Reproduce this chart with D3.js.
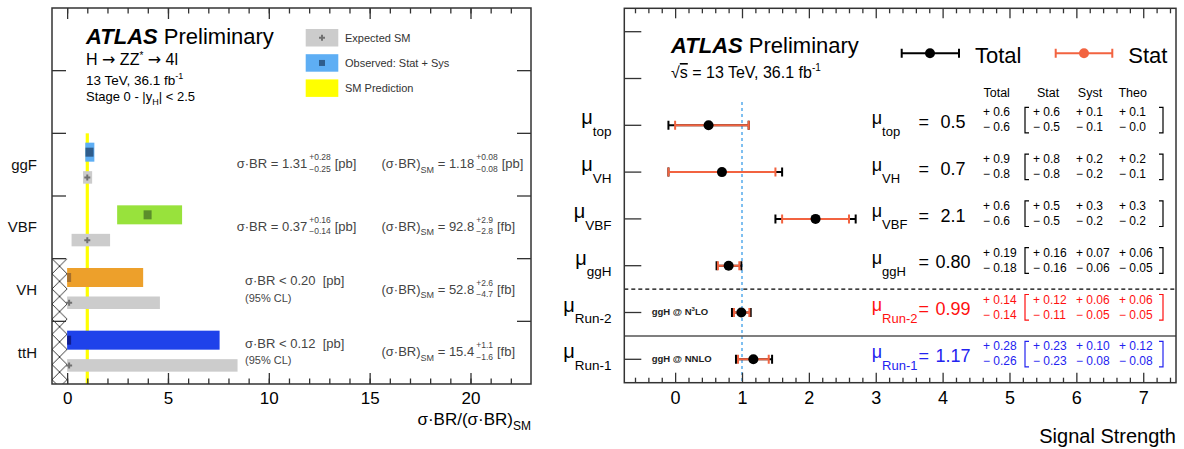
<!DOCTYPE html>
<html>
<head>
<meta charset="utf-8">
<script src="https://cdn.jsdelivr.net/npm/d3@7"></script>
<style>
  body { margin: 0; background: #fff; }
  svg { display: block; font-family: "Liberation Sans", Arial, Helvetica, sans-serif; }
  svg text { white-space: pre; }
</style>
</head>
<body>
<svg id="chart" width="1184" height="449"></svg>
<script>
// ---- left panel: H -> ZZ* -> 4l, sigma*BR relative to SM
const procs = ["ggF", "VBF", "VH", "ttH"];
const obsMid = [1.11, 3.99, 0.0, 0.0];
const obsLo = [0.90, 2.48, 0.0, 0.0];
const obsHi = [1.35, 5.70, 3.77, 7.56];
const expMid = [1.0, 1.0, 0.0, 0.0];
const expLo = [0.79, 0.22, 0.0, 0.0];
const expHi = [1.24, 2.13, 4.60, 8.45];
const isLimit = [false, false, true, true];
const xsObs = ["1.31", "0.37", "0.20", "0.12"];
const xsObsUp = ["+0.28", "+0.16", "", ""];
const xsObsDn = ["−0.25", "−0.14", "", ""];
const xsSM = ["1.18", "92.8", "52.8", "15.4"];
const xsSMUp = ["+0.08", "+2.9", "+2.6", "+1.1"];
const xsSMDn = ["−0.08", "−2.8", "−4.7", "−1.6"];
const xsSMUnit = ["pb", "fb", "fb", "fb"];
const procColor = ["#5eaef4", "#98e23c", "#eda02b", "#1f42ea"];
const procDark = ["#2f5d8c", "#5b8e2b", "#a66f2c", "#101c8c"];
const legendL = ["Expected SM", "Observed: Stat + Sys", "SM Prediction"];
const xTicksL = [0, 5, 10, 15, 20];

// ---- right panel: signal strengths
const muNames = ["top", "VH", "VBF", "ggH", "Run-2", "Run-1"];
const muVal = [0.5, 0.7, 2.1, 0.80, 0.99, 1.17];
const totUp = [0.6, 0.9, 0.6, 0.19, 0.14, 0.28];
const totDn = [0.6, 0.8, 0.6, 0.18, 0.14, 0.26];
const statUp = [0.6, 0.8, 0.5, 0.16, 0.12, 0.23];
const statDn = [0.5, 0.8, 0.5, 0.16, 0.11, 0.23];
const systUp = [0.1, 0.2, 0.3, 0.07, 0.06, 0.10];
const systDn = [0.1, 0.2, 0.2, 0.06, 0.05, 0.08];
const theoUp = [0.1, 0.2, 0.3, 0.06, 0.06, 0.12];
const theoDn = [0.0, 0.1, 0.2, 0.05, 0.05, 0.08];
const muDigits = [1, 1, 1, 2, 2, 2];
const muColor = ["#000", "#000", "#000", "#000", "#ff1010", "#2323f0"];
const muNote = ["", "", "", "", "N3LO", "NNLO"];
const colHeads = ["Total", "Stat", "Syst", "Theo"];
const xTicksR = [0, 1, 2, 3, 4, 5, 6, 7];

const svg = d3.select("#chart");
svg.append("rect").attr("width", 1184).attr("height", 449).attr("fill", "#fff");

const ORANGE = "#f26340";

// text helpers (tspans shifted with dy so one text chunk keeps its anchor)
function rich(g, x, y, parts, fill, anchor) {
  const t = g.append("text").attr("x", x).attr("y", y)
    .attr("fill", fill || "#000").attr("text-anchor", anchor || "start");
  let cur = 0;
  parts.forEach(([s, size, dy, kind]) => {
    const off = dy || 0;
    const sp = t.append("tspan").attr("dy", off - cur).attr("font-size", size).text(s);
    cur = off;
    if (kind === "atlas") sp.attr("font-weight", "bold").attr("font-style", "italic");
    if (kind === "over") sp.style("text-decoration", "overline");
    if (kind === "bold") sp.attr("font-weight", "bold");
    if (kind === "arrow") sp.attr("font-family", "DejaVu Sans");
  });
  return t;
}
const wOf = t => t.node().getComputedTextLength();
function stack(g, x, y, up, dn, size, upDy, dnDy, fill) {
  const a = g.append("text").attr("x", x).attr("y", y + upDy).attr("font-size", size).attr("fill", fill).text(up);
  const b = g.append("text").attr("x", x).attr("y", y + dnDy).attr("font-size", size).attr("fill", fill).text(dn);
  return Math.max(wOf(a), wOf(b));
}

// ================= LEFT PANEL =================
const xL = d3.scaleLinear().domain([-0.75, 23]).range([52, 531]);
const yL = d3.scaleBand().domain(["r1", "r2"].concat(procs)).range([8, 384]);
const bwL = yL.bandwidth();
const gL = svg.append("g");

// hatched region (excluded negative values) under VH and ttH
const hatchTop = yL("VH");
const hw = xL(0) - xL.range()[0];
const pat = svg.append("defs").append("pattern").attr("id", "xhatch")
  .attr("patternUnits", "userSpaceOnUse").attr("x", xL.range()[0]).attr("y", hatchTop)
  .attr("width", hw).attr("height", hw);
pat.append("path").attr("d", `M0,0L${hw},${hw}M${hw},0L0,${hw}`)
  .attr("stroke", "#222").attr("stroke-width", 0.9).attr("fill", "none");
gL.append("rect").attr("x", xL.range()[0]).attr("y", hatchTop)
  .attr("width", hw).attr("height", yL.range()[1] - hatchTop).attr("fill", "url(#xhatch)");

// SM prediction line
gL.append("line").attr("x1", xL(1)).attr("x2", xL(1))
  .attr("y1", yL("ggF")).attr("y2", yL.range()[1])
  .attr("stroke", "#ffff00").attr("stroke-width", 3.2);

function plus(g, cx, cy, color) {
  g.append("path").attr("d", `M${cx - 3},${cy}H${cx + 3}M${cx},${cy - 3}V${cy + 3}`)
    .attr("stroke", color).attr("stroke-width", 2);
}

procs.forEach((p, i) => {
  const y0 = yL(p);
  const yc = y0 + bwL / 2;
  // observed
  gL.append("rect").attr("x", xL(obsLo[i])).attr("y", yc - 22)
    .attr("width", xL(obsHi[i]) - xL(obsLo[i])).attr("height", 19)
    .attr("fill", procColor[i]);
  const sx0 = Math.max(xL(obsMid[i]) - 4, xL(0));
  gL.append("rect").attr("x", sx0).attr("y", yc - 17)
    .attr("width", xL(obsMid[i]) + 4 - sx0).attr("height", 9)
    .attr("fill", procDark[i]);
  // expected
  gL.append("rect").attr("x", xL(expLo[i])).attr("y", yc + 6.5)
    .attr("width", xL(expHi[i]) - xL(expLo[i])).attr("height", 12.5)
    .attr("fill", "#cccccc");
  plus(gL, Math.max(xL(expMid[i]), xL(0) + 2), yc + 12.8, "#707070");

  // category label
  rich(gL, 37, yc + 5, [[p, 15]], "#111", "end");

  // cross-section text
  const tc = "#444";
  if (!isLimit[i]) {
    const t = rich(gL, 236.7, yc + 3.5, [["σ·BR = " + xsObs[i], 13]], tc);
    const x1 = 236.7 + wOf(t) + 2;
    const sw = stack(gL, x1, yc + 3.5, xsObsUp[i], xsObsDn[i], 8.5, -8, 3.5, tc);
    rich(gL, x1 + sw + 4, yc + 3.5, [["[pb]", 13]], tc);
  } else {
    rich(gL, 245, yc - 5, [["σ·BR < " + xsObs[i] + "  [pb]", 13]], tc);
    rich(gL, 245, yc + 11.5, [["(95% CL)", 11]], tc);
  }
  const ys = yc + 3.5;
  const t2 = rich(gL, 381.5, ys, [["(σ·BR)", 13], ["SM", 9, 4.5], [" = " + xsSM[i], 13]], tc);
  const x2 = 381.5 + wOf(t2) + 2;
  const sw2 = stack(gL, x2, ys, xsSMUp[i], xsSMDn[i], 8.5, -8, 3.5, tc);
  rich(gL, x2 + sw2 + 4, ys, [["[" + xsSMUnit[i] + "]", 13]], tc);
});

// legend
legendL.forEach((s, i) => {
  const by = 29 + i * 25.2;
  const fill = ["#cccccc", procColor[0], "#ffff00"][i];
  gL.append("rect").attr("x", 305.7).attr("y", by).attr("width", 32.6).attr("height", 17.5).attr("fill", fill);
  if (i === 0) plus(gL, 322, by + 8.75, "#707070");
  if (i === 1) gL.append("rect").attr("x", 319).attr("y", by + 5.75).attr("width", 6).attr("height", 6).attr("fill", procDark[0]);
  rich(gL, 345, by + 12.5, [[s, 11]], "#333");
});

// header texts
rich(gL, 86, 43.5, [["ATLAS", 22, 0, "atlas"], [" Preliminary", 22]]);
rich(gL, 86, 65, [["H ", 16], ["→", 16, 0, "arrow"], [" ZZ", 16], ["*", 10, -6], [" ", 16], ["→", 16, 0, "arrow"], [" 4l", 16]]);
rich(gL, 86, 84.5, [["13 TeV, 36.1 fb", 13.5], ["-1", 9, -6]]);
rich(gL, 86, 101, [["Stage 0 - |y", 13], ["H", 9, 4], ["| < 2.5", 13]]);

// frame and axes
gL.append("rect").attr("x", 52).attr("y", 8).attr("width", 479).attr("height", 376)
  .attr("fill", "none").attr("stroke", "#333").attr("stroke-width", 1.5);
const minorL = d3.range(0, 23);
gL.append("g").attr("transform", "translate(0,384)")
  .call(d3.axisBottom(xL).tickValues(minorL).tickSizeInner(-5.5).tickSizeOuter(0).tickFormat(""))
  .call(a => a.select(".domain").remove());
gL.append("g").attr("transform", "translate(0,384)")
  .call(d3.axisBottom(xL).tickValues(xTicksL).tickSizeInner(-11).tickSizeOuter(0).tickPadding(8))
  .call(a => a.select(".domain").remove())
  .call(a => a.selectAll("text").attr("font-size", 17).attr("font-family", "Liberation Sans, Arial, sans-serif"));
gL.append("g").attr("transform", "translate(0,8)")
  .call(d3.axisTop(xL).tickValues(minorL).tickSizeInner(-5.5).tickSizeOuter(0).tickFormat(""))
  .call(a => a.select(".domain").remove());
gL.append("g").attr("transform", "translate(0,8)")
  .call(d3.axisTop(xL).tickValues(xTicksL).tickSizeInner(-11).tickSizeOuter(0).tickFormat(""))
  .call(a => a.select(".domain").remove());
gL.selectAll(".tick line").attr("stroke", "#333").attr("stroke-width", 1.3);
yL.domain().slice(1).forEach(k => {
  const y = yL(k);
  gL.append("line").attr("x1", 52).attr("x2", 66).attr("y1", y).attr("y2", y).attr("stroke", "#333").attr("stroke-width", 1.3);
  gL.append("line").attr("x1", 517).attr("x2", 531).attr("y1", y).attr("y2", y).attr("stroke", "#333").attr("stroke-width", 1.3);
});
rich(gL, 531, 425, [["σ·BR/(σ·BR)", 17], ["SM", 12, 5]], "#000", "end");

// ================= RIGHT PANEL =================
const xR = d3.scaleLinear().domain([-0.76, 7.49]).range([624.3, 1176]);
const yR = d3.scaleBand().domain(["h0", "leg"].concat(muNames)).range([8.3, 382.7]);
const bwR = yR.bandwidth();
const gR = svg.append("g");
const [fx0, fx1] = xR.range();
const [fy0, fy1] = yR.range();

// SM reference line at mu = 1
gR.append("line").attr("x1", xR(1)).attr("x2", xR(1)).attr("y1", yR("top")).attr("y2", fy1)
  .attr("stroke", "#7fbff0").attr("stroke-width", 2).attr("stroke-dasharray", "3,3");
gR.append("line").attr("x1", fx0).attr("x2", fx1).attr("y1", yR("Run-2")).attr("y2", yR("Run-2"))
  .attr("stroke", "#000").attr("stroke-width", 1.2).attr("stroke-dasharray", "4,3");
gR.append("line").attr("x1", fx0).attr("x2", fx1).attr("y1", yR("Run-1")).attr("y2", yR("Run-1"))
  .attr("stroke", "#555").attr("stroke-width", 1.5);

function errBar(g, x0, x1, y, color) {
  g.append("path").attr("d", `M${x0},${y}H${x1}M${x0},${y - 4.5}V${y + 4.5}M${x1},${y - 4.5}V${y + 4.5}`)
    .attr("stroke", color).attr("stroke-width", 2).attr("fill", "none");
}
function bracket(g, x, yc, dir, color) {
  g.append("path").attr("d", `M${x + dir * 4},${yc - 18}H${x}V${yc + 7.6}H${x + dir * 4}`)
    .attr("stroke", color).attr("stroke-width", 1.2).attr("fill", "none");
}

const fmtPM = (v, d, s) => s + " " + v.toFixed(d);

muNames.forEach((n, i) => {
  const yc = yR(n) + bwR / 2;
  const c = muColor[i];
  errBar(gR, xR(muVal[i] - totDn[i]), xR(muVal[i] + totUp[i]), yc, "#000");
  errBar(gR, xR(muVal[i] - statDn[i]), xR(muVal[i] + statUp[i]), yc, ORANGE);
  gR.append("circle").attr("cx", xR(muVal[i])).attr("cy", yc).attr("r", 5).attr("fill", "#000");

  // axis label
  rich(gR, 611.5, yc - 1, [["μ", 20], [n, 13.5, 11.7]], "#000", "end");
  if (muNote[i]) {
    rich(gR, 651.7, yc + 2.7, [["ggH @ ", 9.5, 0, "bold"],
      ...(muNote[i] === "N3LO" ? [["N", 9.5, 0, "bold"], ["3", 6, -4, "bold"], ["LO", 9.5, 0, "bold"]]
                               : [["NNLO", 9.5, 0, "bold"]])], "#222");
  }

  // table entry
  rich(gR, 871.7, yc - 1.5, [["μ", 18], [n, 13, 12]], c);
  rich(gR, 918.5, yc + 2.6, [["=", 18]], c);
  rich(gR, 953, yc + 2.6, [[muVal[i].toFixed(muDigits[i]), 18]], c, "middle");
  const d = muDigits[i];
  stack(gR, 983, yc, fmtPM(totUp[i], d, "+"), fmtPM(totDn[i], d, "−"), 12, -9, 6, c);
  bracket(gR, 1025, yc, 1, c);
  stack(gR, 1033, yc, fmtPM(statUp[i], d, "+"), fmtPM(statDn[i], d, "−"), 12, -9, 6, c);
  stack(gR, 1076, yc, fmtPM(systUp[i], d, "+"), fmtPM(systDn[i], d, "−"), 12, -9, 6, c);
  stack(gR, 1119, yc, fmtPM(theoUp[i], d, "+"), fmtPM(theoDn[i], d, "−"), 12, -9, 6, c);
  bracket(gR, 1163, yc, -1, c);
});

// column headers
[996.7, 1048, 1090, 1132.7].forEach((x, k) => rich(gR, x, 96.7, [[colHeads[k], 12.5]], "#000", "middle"));

// legend
const ly = yR("leg") - 1.8;
errBar(gR, 901.7, 959, ly, "#000");
gR.append("circle").attr("cx", 930).attr("cy", ly).attr("r", 5).attr("fill", "#000");
rich(gR, 975, ly + 9.4, [["Total", 22]]);
errBar(gR, 1055.7, 1112.3, ly, ORANGE);
gR.append("circle").attr("cx", 1084).attr("cy", ly).attr("r", 5).attr("fill", ORANGE);
rich(gR, 1128.3, ly + 9.4, [["Stat", 22]]);

rich(gR, 671, 53.3, [["ATLAS", 22, 0, "atlas"], [" Preliminary", 22]]);
rich(gR, 671, 78, [["√", 16], ["s", 16, 0, "over"], [" = 13 TeV, 36.1 fb", 16], ["-1", 10, -7]]);

// frame and axes
gR.append("rect").attr("x", fx0).attr("y", fy0).attr("width", fx1 - fx0).attr("height", fy1 - fy0)
  .attr("fill", "none").attr("stroke", "#333").attr("stroke-width", 1.5);
const minorR = d3.range(-0.6, 7.5, 0.2).filter(v => Math.abs(v - Math.round(v)) > 0.01);
[[fy1, d3.axisBottom], [fy0, d3.axisTop]].forEach(([yy, ax], k) => {
  gR.append("g").attr("transform", `translate(0,${yy})`)
    .call(ax(xR).tickValues(minorR).tickSizeInner(-5).tickSizeOuter(0).tickFormat(""))
    .call(a => a.select(".domain").remove());
  const major = gR.append("g").attr("transform", `translate(0,${yy})`)
    .call(ax(xR).tickValues(xTicksR).tickSizeInner(-10).tickSizeOuter(0).tickPadding(9))
    .call(a => a.select(".domain").remove());
  if (k === 1) major.selectAll("text").remove();
  else major.selectAll("text").attr("font-size", 18).attr("font-family", "Liberation Sans, Arial, sans-serif");
});
gR.append("g").attr("transform", `translate(${fx0},0)`)
  .call(d3.axisLeft(yR).tickSizeInner(-17).tickSizeOuter(0).tickFormat(""))
  .call(a => a.select(".domain").remove());
gR.selectAll(".tick line").attr("stroke", "#333").attr("stroke-width", 1.3);
rich(gR, 1176, 443, [["Signal Strength", 20]], "#000", "end");
</script>
</body>
</html>
